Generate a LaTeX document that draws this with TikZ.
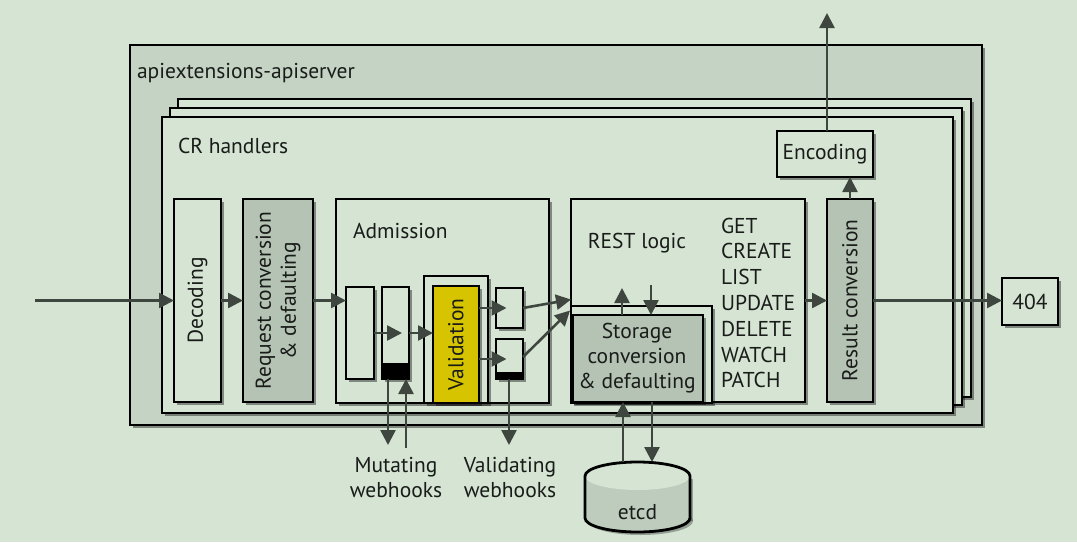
\documentclass[tikz,border=0pt]{standalone}
\usepackage{fontspec}
\setmainfont{PT Sans}
\usetikzlibrary{shadows,arrows.meta,calc}
\definecolor{bgc}{RGB}{213,228,211}
\definecolor{outerc}{RGB}{197,211,196}
\definecolor{grayc}{RGB}{181,195,180}
\definecolor{cylc}{RGB}{190,204,189}
\definecolor{yelc}{RGB}{214,196,0}
\definecolor{arrc}{RGB}{62,70,63}
\definecolor{txtc}{RGB}{25,28,25}
\begin{document}
\begin{tikzpicture}[x=1pt,y=-1pt,
  every node/.style={font=\fontsize{21.5}{25}\selectfont, text=txtc, inner sep=0pt, outer sep=0pt},
  box/.style={draw=black, line width=2.8pt, fill=bgc,
    drop shadow={shadow xshift=3pt,shadow yshift=-3pt,opacity=0.4,fill=black}},
  graybox/.style={box, fill=grayc},
  arr/.style={draw=arrc, line width=2.6pt, -{Triangle[length=15pt,width=15pt]}},
  rot/.style={rotate=90, align=center}]
\useasboundingbox[fill=bgc] (0,0) rectangle (1077,542);
% outer boxes
\node[box, fill=outerc, minimum width=852, minimum height=380] (outer) at (556,235) {};
\node[box, minimum width=793, minimum height=298] (fr3) at (574.5,248) {};
\node[box, minimum width=792, minimum height=297] (fr2) at (566,256.5) {};
\node[box, minimum width=791, minimum height=296] (crh) at (557.5,265) {};
% stages
\node[box, minimum width=47, minimum height=203] (dec) at (197.5,300.5) {};
\node[graybox, minimum width=70, minimum height=203] (req) at (278,300.5) {};
\node[box, minimum width=213, minimum height=204] (adm) at (442.5,301) {};
\node[box, minimum width=28, minimum height=92] (m1) at (360,333) {};
\node[box, minimum width=27, minimum height=92] (m2) at (395.5,333) {};
\fill[black] (382,363) rectangle (409,379);
\node[box, minimum width=64, minimum height=127] (valc) at (456,339.5) {};
\node[box, fill=yelc, minimum width=46, minimum height=117] (val) at (456,344.5) {};
\node[box, minimum width=27, minimum height=40] (v1) at (509.5,308) {};
\node[box, minimum width=27, minimum height=40] (v2) at (509.5,359) {};
\fill[black] (496,372) rectangle (523,379);
\node[box, minimum width=234, minimum height=203] (rest) at (688,300.5) {};
\node[box, minimum width=141, minimum height=97] (stc) at (641.5,354.5) {};
\node[graybox, minimum width=130, minimum height=87] (sto) at (638,358.5) {};
\node[graybox, minimum width=46, minimum height=203] (res) at (850,300.5) {};
\node[box, minimum width=96, minimum height=46] (enc) at (825,154) {Encoding};
\node[box, minimum width=56, minimum height=47] (e404) at (1030,301.5) {404};
% etcd cylinder
\node[minimum width=105, minimum height=70] (etcd) at (637.5,497) {};
\fill[black, opacity=0.3] (588,479) rectangle (693,521);
\fill[black, opacity=0.3] (640.5,521) ellipse [x radius=52.5, y radius=14];
\fill[cylc] (585,476) rectangle (690,518);
\fill[cylc] (637.5,518) ellipse [x radius=52.5, y radius=14];
\fill[bgc] (637.5,476) ellipse [x radius=52.5, y radius=14];
\draw[black, line width=2.8pt] (585,518) -- (585,476) arc[start angle=180, end angle=360, x radius=52.5, y radius=14] -- (690,518) arc[start angle=0, end angle=180, x radius=52.5, y radius=14] -- cycle;
% texts
\node[anchor=west] (tapi) at (137,73) {apiextensions-apiserver};
\node[anchor=west] (tcrh) at (178,146) {CR handlers};
\node[anchor=west] (tadm) at (353,231) {Admission};
\node (trest) at (637,243) {REST logic};
\node[anchor=west, align=left, font=\fontsize{21.5}{25.8}\selectfont] (tmeth) at (721,303) {GET\\CREATE\\LIST\\UPDATE\\DELETE\\WATCH\\PATCH};
\node[align=center] (tsto) at (637,358) {Storage\\conversion\\\& defaulting};
\node[rot] (tdec) at (dec.center) {Decoding};
\node[rot] (treq) at (req.center) {Request conversion\\\& defaulting};
\node[rot] (tval) at (val.center) {Validation};
\node[rot] (tres) at (res.center) {Result conversion};
\node[align=center] (tmut) at (396,478) {Mutating\\webhooks};
\node[align=center] (tvwh) at (510,478) {Validating\\webhooks};
\node (tetcd) at (637.5,512) {etcd};
% connectors
\coordinate (in) at (35,300.5);
\coordinate (out) at (827,13);
\draw[arr] (in) -- (dec.west);
\draw[arr] (dec.east) -- (req.west);
\draw[arr] (req.east) -- (req.east -| m1.west);
\draw[arr] (m1.east) -- ($(m2.east)+(-7,0)$);
\draw[arr] (m2.east) -- (val.west |- m2.east);
\draw[arr] (val.east |- v1.center) -- ($(v1.center)+(-3,0)$);
\draw[arr] (val.east |- v2.center) -- ($(v2.center)+(-3,0)$);
\draw[arr] (v1.east) -- ($(rest.west)+(0,-1)$);
\draw[arr] ($(v2.east)+(0,-2)$) -- ($(rest.west)+(-1,10)$);
\draw[arr] (sto.north -| 622,0) -- (622,288);
\draw[arr] (651,285) -- (sto.north -| 651,0);
\draw[arr] (rest.east) -- (res.west);
\draw[arr] (res.east) -- (e404.west |- res.east);
\draw[arr] (res.north) -- (res.north |- enc.south);
\draw[arr] (enc.north -| out) -- (out);
\draw[arr] (m2.south -| 388,0) -- (388,445);
\draw[arr] (406,448) -- (m2.south -| 406,0);
\draw[arr] (v2.south -| 509,0) -- (509,445);
\draw[arr] (etcd.north -| 623,0) -- (sto.south -| 623,0);
\draw[arr] (sto.south -| 652,0) -- (etcd.north -| 652,0);
\end{tikzpicture}
\end{document}
